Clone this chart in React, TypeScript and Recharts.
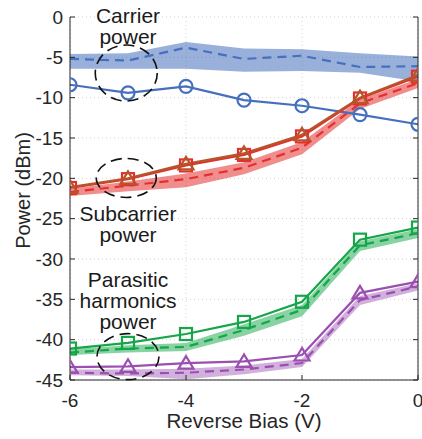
import React from 'react';
import {
  ComposedChart, Line, Area, XAxis, YAxis, CartesianGrid, ReferenceDot, Label,
} from 'recharts';

const xs = [-6, -5, -4, -3, -2, -1, 0];
const xTicks = [-6, -4, -2, 0];
const yTicks = [0, -5, -10, -15, -20, -25, -30, -35, -40, -45];

const carrierMeas = [-8.4, -9.4, -8.6, -10.3, -11.0, -12.1, -13.3];
const carrierSim = [-5.2, -5.4, -3.8, -5.2, -4.8, -6.2, -6.1];
const carrierLow = [-6.4, -6.4, -6.4, -6.8, -6.7, -6.9, -8.0];
const carrierHigh = [-4.6, -4.5, -3.1, -3.9, -4.0, -4.5, -4.9];

const subTri = [-21.1, -20.0, -18.2, -16.9, -14.6, -10.0, -7.2];
const subSq = [-21.2, -20.1, -18.4, -17.1, -14.8, -10.1, -7.4];
const subSim = [-21.7, -20.9, -20.1, -18.7, -16.2, -10.7, -8.2];
const subLow = [-22.2, -21.6, -21.1, -19.5, -17.0, -11.4, -8.8];
const subHigh = [-21.3, -20.4, -19.4, -18.0, -15.5, -10.2, -7.7];

const greenSq = [-41.1, -40.4, -39.3, -37.8, -35.3, -27.6, -26.1];
const greenSim = [-41.6, -41.1, -40.9, -38.8, -36.3, -28.3, -26.8];
const greenLow = [-41.9, -41.6, -41.4, -39.5, -37.1, -29.0, -27.4];
const greenHigh = [-41.2, -40.7, -40.4, -38.1, -35.7, -27.8, -26.3];

const purpleTri = [-43.4, -43.3, -42.9, -42.7, -41.9, -34.2, -32.8];
const purpleSim = [-44.1, -44.2, -44.1, -43.7, -42.9, -35.1, -33.4];
const purpleLow = [-44.4, -44.5, -44.9, -44.3, -43.4, -35.7, -33.9];
const purpleHigh = [-43.7, -43.7, -43.6, -43.2, -42.4, -34.6, -33.0];

const annotations = [
  { x: -5, y: -0.74, lines: ['Carrier', 'power'] },
  { x: -5, y: -25.3, lines: ['Subcarrier', 'power'] },
  { x: -5, y: -33.45, lines: ['Parasitic', 'harmonics', 'power'] },
];
const ellipses = [
  { x: -5.03, y: -6.95, rx: 31, ry: 28 },
  { x: -5.03, y: -19.95, rx: 30, ry: 19.5 },
  { x: -5.0, y: -42.1, rx: 31, ry: 23 },
];

const data = xs.map((x, i) => ({
  x,
  cm: carrierMeas[i],
  cs: carrierSim[i],
  cb: [carrierLow[i], carrierHigh[i]],
  st: subTri[i],
  sq: subSq[i],
  ss: subSim[i],
  sb: [subLow[i], subHigh[i]],
  gm: greenSq[i],
  gs: greenSim[i],
  gb: [greenLow[i], greenHigh[i]],
  pm: purpleTri[i],
  ps: purpleSim[i],
  pb: [purpleLow[i], purpleHigh[i]],
}));

const BLUE = '#4670bd';
const RED = '#e3302f';
const BROWN = '#b5562a';
const GREEN = '#14a648';
const PURPLE = '#9a4fb1';
const AX = '#262626';
const FONT = '"Liberation Sans", Arial, Helvetica, sans-serif';
const SW = 2.2;

const LeftTick = (p: any) => (
  <g>
    <text x={p.x} y={p.y} dy="0.35em" textAnchor="end" fontSize={19} fill={AX} fontFamily={FONT}>
      {p.payload.value}
    </text>
    <line x1={p.x + 7} x2={p.x + 12} y1={p.y} y2={p.y} stroke={AX} />
  </g>
);
const BottomTick = (p: any) => (
  <g>
    <text x={p.x} y={p.y + 27} textAnchor="middle" fontSize={19} fill={AX} fontFamily={FONT}>
      {p.payload.value}
    </text>
    <line x1={p.x} x2={p.x} y1={p.y} y2={p.y - 5} stroke={AX} />
  </g>
);
const RightTick = (p: any) => (
  <line x1={p.x} x2={p.x - 5} y1={p.y} y2={p.y} stroke={AX} />
);
const TopTick = (p: any) => (
  <line x1={p.x} x2={p.x} y1={p.y} y2={p.y + 5} stroke={AX} />
);

const squareDot = (color: string) => (p: any) => (
  <rect key={p.index} x={p.cx - 6} y={p.cy - 6} width={12} height={12} fill="none" stroke={color} strokeWidth={SW} />
);
const triDot = (color: string) => (p: any) => (
  <polygon
    key={p.index}
    points={`${p.cx},${p.cy - 7} ${p.cx - 7.5},${p.cy + 5.5} ${p.cx + 7.5},${p.cy + 5.5}`}
    fill="none"
    stroke={color}
    strokeWidth={SW}
  />
);

const AnnText = (lines: string[]) => (p: any) => (
  <text x={p.cx} y={p.cy} textAnchor="middle" fontSize={21} fill="#1a1a1a" fontFamily={FONT}>
    {lines.map((l, i) => (
      <tspan key={i} x={p.cx} dy={i === 0 ? 0 : 21}>{l}</tspan>
    ))}
  </text>
);
const EllShape = (rx: number, ry: number) => (p: any) => (
  <ellipse cx={p.cx} cy={p.cy} rx={rx} ry={ry} fill="none" stroke="#111" strokeWidth={1.6} strokeDasharray="11 6" />
);

export default function App() {
  return (
    <div style={{ position: 'absolute', left: 0, top: 0, width: 422, height: 439, background: '#fff' }}>
      <ComposedChart width={422} height={439} data={data} margin={{ top: 17, right: 0, bottom: 0, left: 0 }}>
        <CartesianGrid stroke="#d0d0d0" strokeDasharray="1 3" />
        <XAxis
          dataKey="x" type="number" domain={[-6, 0]} ticks={xTicks} height={59}
          tickSize={0} tickMargin={0} tick={<BottomTick />} stroke={AX} allowDataOverflow
        >
          <Label
            content={(p: any) => (
              <text x={p.viewBox.x + p.viewBox.width / 2} y={p.viewBox.y + 48} textAnchor="middle" fontSize={20.5} fill={AX} fontFamily={FONT}>
                Reverse Bias (V)
              </text>
            )}
          />
        </XAxis>
        <XAxis
          xAxisId="t" orientation="top" dataKey="x" type="number" domain={[-6, 0]} ticks={xTicks} height={0}
          tickSize={0} tickMargin={0} tick={<TopTick />} stroke={AX}
        />
        <YAxis
          type="number" domain={[-45, 0]} ticks={yTicks} width={70} interval={0}
          tickSize={0} tickMargin={7} tick={<LeftTick />} stroke={AX} allowDataOverflow
        >
          <Label
            content={(p: any) => {
              const cx = 23;
              const cy = p.viewBox.y + p.viewBox.height / 2 - 8;
              return (
                <text x={cx} y={cy} transform={`rotate(-90 ${cx} ${cy})`} textAnchor="middle" dominantBaseline="central" fontSize={20} fill={AX} fontFamily={FONT}>
                  Power (dBm)
                </text>
              );
            }}
          />
        </YAxis>
        <YAxis
          yAxisId="r" orientation="right" type="number" domain={[-45, 0]} ticks={yTicks} width={4} interval={0}
          tickSize={0} tickMargin={0} tick={<RightTick />} stroke={AX}
        />

        <Area type="linear" dataKey="cb" stroke="none" fill={BLUE} fillOpacity={0.55} isAnimationActive={false} dot={false} activeDot={false} />
        <Area type="linear" dataKey="sb" stroke="none" fill={RED} fillOpacity={0.55} isAnimationActive={false} dot={false} activeDot={false} />
        <Area type="linear" dataKey="gb" stroke="none" fill={GREEN} fillOpacity={0.5} isAnimationActive={false} dot={false} activeDot={false} />
        <Area type="linear" dataKey="pb" stroke="none" fill={PURPLE} fillOpacity={0.45} isAnimationActive={false} dot={false} activeDot={false} />

        <Line type="linear" dataKey="cs" stroke={BLUE} strokeWidth={SW} strokeDasharray="9 6" dot={false} activeDot={false} isAnimationActive={false} />
        <Line type="linear" dataKey="ss" stroke={RED} strokeWidth={SW} strokeDasharray="9 6" dot={false} activeDot={false} isAnimationActive={false} />
        <Line type="linear" dataKey="gs" stroke={GREEN} strokeWidth={SW} strokeDasharray="9 6" dot={false} activeDot={false} isAnimationActive={false} />
        <Line type="linear" dataKey="ps" stroke={PURPLE} strokeWidth={SW} strokeDasharray="9 6" dot={false} activeDot={false} isAnimationActive={false} />

        <Line type="linear" dataKey="cm" stroke={BLUE} strokeWidth={SW} dot={{ r: 6.5, fill: 'none', stroke: BLUE, strokeWidth: SW }} activeDot={false} isAnimationActive={false} />
        <Line type="linear" dataKey="sq" stroke={RED} strokeWidth={SW} dot={squareDot(RED)} activeDot={false} isAnimationActive={false} />
        <Line type="linear" dataKey="st" stroke={BROWN} strokeWidth={SW} dot={triDot(BROWN)} activeDot={false} isAnimationActive={false} />
        <Line type="linear" dataKey="gm" stroke={GREEN} strokeWidth={SW} dot={squareDot(GREEN)} activeDot={false} isAnimationActive={false} />
        <Line type="linear" dataKey="pm" stroke={PURPLE} strokeWidth={SW} dot={triDot(PURPLE)} activeDot={false} isAnimationActive={false} />

        <Line xAxisId="t" yAxisId="r" type="linear" dataKey="cm" stroke="none" dot={false} activeDot={false} isAnimationActive={false} />

        {ellipses.map((e, i) => (
          <ReferenceDot key={'e' + i} x={e.x} y={e.y} r={1} shape={EllShape(e.rx, e.ry)} />
        ))}
        {annotations.map((a, i) => (
          <ReferenceDot key={'a' + i} x={a.x} y={a.y} r={1} shape={AnnText(a.lines)} />
        ))}
      </ComposedChart>
    </div>
  );
}
